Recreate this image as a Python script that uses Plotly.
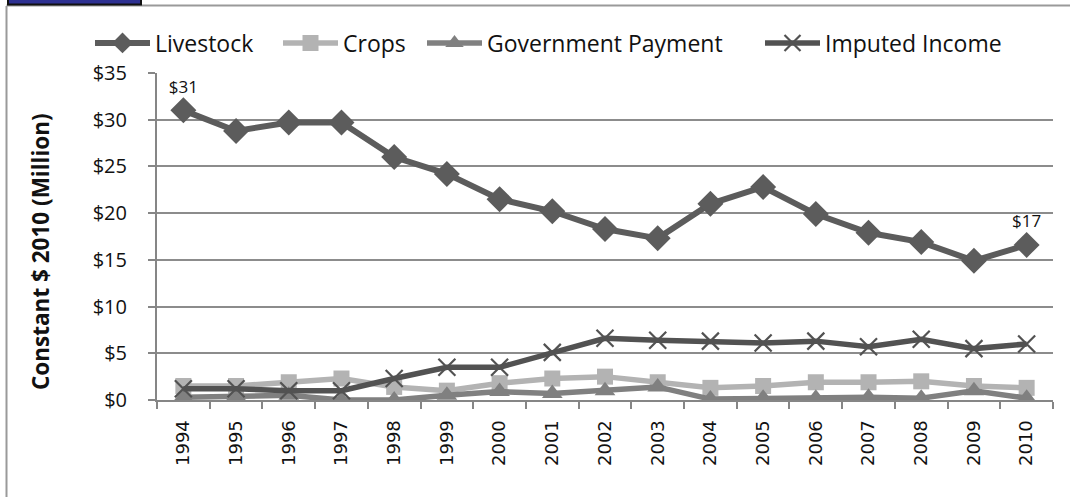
import plotly.graph_objects as go

years = [str(y) for y in range(1994, 2011)]
livestock = [31.0, 28.8, 29.7, 29.7, 26.0, 24.2, 21.5, 20.2, 18.3, 17.3, 21.0, 22.8, 19.9, 17.9, 16.9, 14.9, 16.6]
crops = [1.5, 1.5, 1.9, 2.3, 1.4, 1.0, 1.8, 2.3, 2.5, 1.9, 1.3, 1.5, 1.9, 1.9, 2.0, 1.5, 1.3]
gov = [0.3, 0.4, 0.5, 0.0, 0.0, 0.5, 0.9, 0.7, 1.0, 1.4, 0.1, 0.2, 0.2, 0.3, 0.2, 1.0, 0.2]
imputed = [1.2, 1.2, 1.0, 1.0, 2.3, 3.5, 3.5, 5.1, 6.6, 6.4, 6.3, 6.1, 6.3, 5.7, 6.5, 5.5, 6.0]
livestock_labels = ["$31"] + [""] * 15 + ["$17"]
y_title = "Constant $ 2010 (Million)"

W, H = 1070, 497
ML, MR, MT, MB = 157, 17, 73, 97
PW, PH = W - ML - MR, H - MT - MB

fig = go.Figure()
fig.add_trace(go.Scatter(x=years, y=livestock, name="Livestock", mode="lines+markers+text",
                         legend="legend",
                         text=livestock_labels, textposition="top center",
                         textfont=dict(family="Open Sans", size=17, color="#111111"),
                         line=dict(color="#5c5c5c", width=6),
                         marker=dict(symbol="diamond", size=20, color="#5c5c5c")))
fig.add_trace(go.Scatter(x=years, y=crops, name="Crops", mode="lines+markers",
                         legend="legend2",
                         line=dict(color="#b3b3b3", width=5.5),
                         marker=dict(symbol="square", size=16, color="#b3b3b3")))
fig.add_trace(go.Scatter(x=years, y=gov, name="Government Payment", mode="lines+markers",
                         legend="legend3",
                         line=dict(color="#808080", width=5.5),
                         marker=dict(symbol="triangle-up", size=18, color="#808080")))
fig.add_trace(go.Scatter(x=years, y=imputed, name="Imputed Income", mode="lines+markers",
                         legend="legend4",
                         line=dict(color="#525252", width=5.5),
                         marker=dict(symbol="x-thin-open", size=17,
                                     line=dict(color="#454545", width=2.2))))

def px(xp):
    return (xp - ML) / PW

def py(yp):
    return 1 - (yp - MT) / PH

shapes = [
    dict(type="line", xref="paper", yref="paper", x0=px(6.5), x1=px(6.5), y0=py(6), y1=py(500),
         line=dict(color="#9a9a9a", width=2)),
    dict(type="line", xref="paper", yref="paper", x0=px(6.5), x1=px(1075), y0=py(5.5), y1=py(5.5),
         line=dict(color="#9a9a9a", width=2)),
    dict(type="rect", xref="paper", yref="paper", x0=px(8), x1=px(141), y0=py(-3), y1=py(4.5),
         fillcolor="#2e3192", line=dict(color="#111111", width=2)),
]

def leg(xpix):
    return dict(orientation="h", x=px(xpix), xanchor="left", y=py(43), yanchor="middle",
                font=dict(family="Open Sans", size=23, color="#111111"),
                itemwidth=55, bgcolor="rgba(0,0,0,0)", borderwidth=0)

fig.update_layout(
    width=W, height=H,
    margin=dict(l=ML, r=MR, t=MT, b=MB),
    paper_bgcolor="white", plot_bgcolor="white",
    font=dict(family="Open Sans", color="#111111"),
    showlegend=True,
    legend=leg(90), legend2=leg(278), legend3=leg(422), legend4=leg(760),
    shapes=shapes,
    annotations=[dict(text="<b>" + y_title + "</b>", xref="paper", yref="paper",
                      x=px(40), y=py(252), xanchor="center", yanchor="middle",
                      textangle=-90, showarrow=False,
                      font=dict(family="Open Sans", size=22.5, color="#111111"))],
    xaxis=dict(type="category", showgrid=False, showline=True, linecolor="#868686", linewidth=2,
               ticks="outside", tickson="boundaries", ticklen=7, tickcolor="#868686", tickwidth=2,
               tickangle=-90, tickfont=dict(family="DejaVu Sans", size=18, color="#111111"),
               ticklabelstandoff=11,
               range=[-0.5, 16.5]),
    yaxis=dict(range=[0, 35], dtick=5, tickprefix="$", showgrid=True, gridcolor="#8c8c8c",
               gridwidth=1.6, showline=True, linecolor="#868686", linewidth=2,
               ticks="outside", ticklen=7, tickcolor="#868686", tickwidth=2, zeroline=False,
               ticklabelstandoff=17,
               tickfont=dict(family="Open Sans", size=20, color="#111111")),
)

fig.write_html("out.html", config={"displayModeBar": False},
               post_script="document.body.style.margin='0';document.body.style.overflow='hidden';")
